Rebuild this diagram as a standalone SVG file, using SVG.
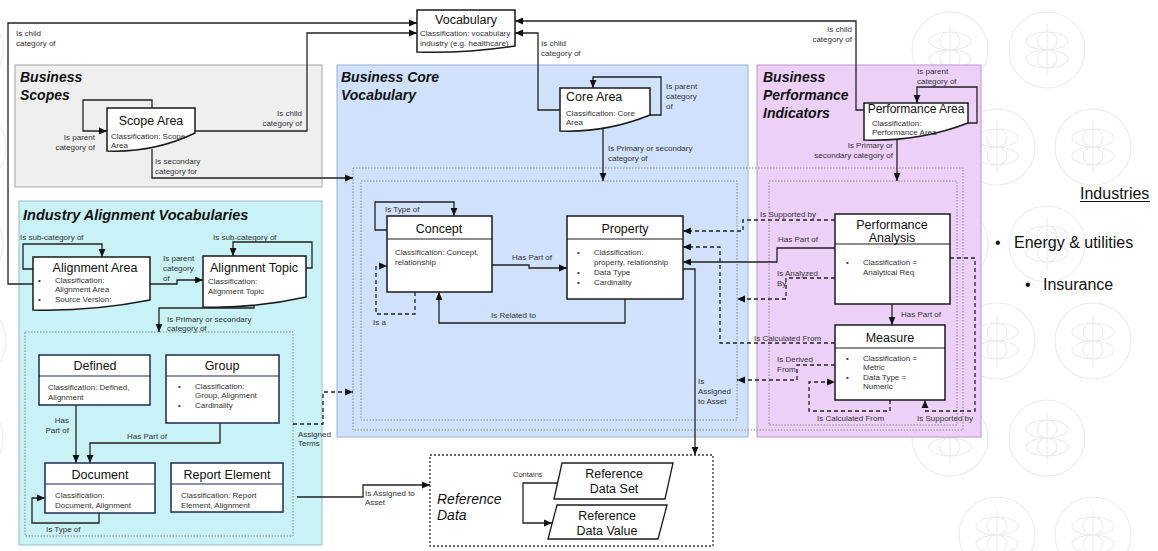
<svg xmlns="http://www.w3.org/2000/svg" width="1158" height="551" viewBox="0 0 1158 551">
  <defs>
    <style>
      text { font-family: "Liberation Sans", Arial, sans-serif; }
      .ptitle { font-size: 14px; font-weight: bold; font-style: italic; fill: #111; }
      .ttl { font-size: 12.5px; fill: #111; }
      .body { font-size: 8px; fill: #333; }
      .lbl { font-size: 8px; fill: #333; }
      .ind { font-size: 16px; fill: #111; }
      .node { fill: #fff; stroke: #1a1a1a; stroke-width: 1.5; }
      .navy { fill: #fff; stroke: #1d2b52; stroke-width: 1.5; }
      .sep { stroke: #1a1a1a; stroke-width: 1.2; }
      .sepn { stroke: #1d2b52; stroke-width: 1.2; }
      .conn { fill: none; stroke: #222; stroke-width: 1.3; marker-end: url(#arrow); }
      .dash { stroke-dasharray: 4 3; }
      .dots { fill: none; stroke: #8a8a8a; stroke-width: 1; stroke-dasharray: 1.5 1.5; }
      .wm { fill: none; stroke: #ececec; stroke-width: 1.1; }
    </style>
    <marker id="arrow" markerUnits="userSpaceOnUse" markerWidth="8" markerHeight="8" viewBox="0 0 8 8" refX="8" refY="4" orient="auto">
      <path d="M0,0.6 L8,4 L0,7.4 z" fill="#111"/>
    </marker>
    <symbol id="wmark" viewBox="-40 -40 80 80" overflow="visible">
      <circle cx="0" cy="0" r="38"/>
      <line x1="0" y1="-26" x2="0" y2="26"/>
      <ellipse cx="0" cy="-9" rx="21" ry="9"/>
      <ellipse cx="0" cy="-9" rx="10" ry="9"/>
      <ellipse cx="0" cy="9" rx="21" ry="9"/>
      <ellipse cx="0" cy="9" rx="10" ry="9"/>
    </symbol>
  </defs>

  <rect x="0" y="0" width="1158" height="551" fill="#fff"/>

  <!-- faint background emblems -->
  <g id="background" class="wm">
    <use href="#wmark" x="910" y="10" width="80" height="80"/>
    <use href="#wmark" x="1007" y="10" width="80" height="80"/>
    <use href="#wmark" x="957" y="107" width="80" height="80"/>
    <use href="#wmark" x="1053" y="107" width="80" height="80"/>
    <use href="#wmark" x="910" y="204" width="80" height="80"/>
    <use href="#wmark" x="1007" y="204" width="80" height="80"/>
    <use href="#wmark" x="957" y="301" width="80" height="80"/>
    <use href="#wmark" x="1053" y="301" width="80" height="80"/>
    <use href="#wmark" x="910" y="398" width="80" height="80"/>
    <use href="#wmark" x="1007" y="398" width="80" height="80"/>
    <use href="#wmark" x="957" y="495" width="80" height="80"/>
    <use href="#wmark" x="1053" y="495" width="80" height="80"/>
    <use href="#wmark" x="-75" y="10" width="80" height="80"/>
    <use href="#wmark" x="-72" y="107" width="80" height="80"/>
    <use href="#wmark" x="-75" y="204" width="80" height="80"/>
    <use href="#wmark" x="-72" y="301" width="80" height="80"/>
    <use href="#wmark" x="-75" y="398" width="80" height="80"/>
  </g>

  <!-- domain panels -->
  <g id="panel-business-scopes">
    <rect x="15" y="65" width="307" height="122" fill="#efefef" stroke="#b3b3b3" stroke-width="1.2"/>
    <text class="ptitle" x="20" y="82">Business</text>
    <text class="ptitle" x="20" y="100">Scopes</text>
  </g>
  <g id="panel-business-core">
    <rect x="337" y="65" width="411" height="372" fill="#cfe1fb" stroke="#a7bbdc" stroke-width="1.2"/>
    <text class="ptitle" x="341" y="82">Business Core</text>
    <text class="ptitle" x="341" y="100">Vocabulary</text>
  </g>
  <g id="panel-performance">
    <rect x="757" y="65" width="224" height="372" fill="#edd0f8" stroke="#c6a3d4" stroke-width="1.2"/>
    <text class="ptitle" x="763" y="82">Business</text>
    <text class="ptitle" x="763" y="100">Performance</text>
    <text class="ptitle" x="763" y="118">Indicators</text>
  </g>
  <g id="panel-industry-alignment">
    <rect x="19" y="201" width="303" height="344" fill="#c8f2f5" stroke="#a6c6ca" stroke-width="1.2"/>
    <text class="ptitle" x="23" y="220" style="font-size:14.5px">Industry Alignment Vocabularies</text>
  </g>

  <!-- dotted groupings -->
  <g id="groupings">
    <rect class="dots" x="353" y="168" width="610" height="262"/>
    <rect class="dots" x="361" y="181" width="376" height="239"/>
    <rect class="dots" x="769" y="181" width="188" height="244"/>
    <rect class="dots" x="25" y="332" width="268" height="204"/>
  </g>

  <!-- reference data area frame -->
  <g id="reference-data">
    <rect x="430" y="455" width="283" height="91" fill="none" stroke="#333" stroke-width="1.3" stroke-dasharray="2 2"/>
    <text x="437" y="504" style="font-size:14px;font-style:italic;fill:#111">Reference</text>
    <text x="437" y="520" style="font-size:14px;font-style:italic;fill:#111">Data</text>
  </g>

  <!-- connectors -->
  <g id="connectors">
    <path class="conn" d="M33 284 H8 V23 H417"/>
    <path class="conn" d="M195 131 H307 V33 H417"/>
    <path class="conn" d="M560 110 H538 V33 H515"/>
    <path class="conn" d="M864 110 H856 V21 H515"/>
    <path class="conn" d="M152 108 V100 H83 V131 H107"/>
    <path class="conn" d="M152 149 V178 H353"/>
    <path class="conn" d="M650 115 H661 V77 H593 V88"/>
    <path class="conn" d="M603 129 V181"/>
    <path class="conn" d="M968 123 H977 V87 H917 V103"/>
    <path class="conn" d="M897 139 V181"/>
    <path class="conn" d="M33 269 H23 V244 H102 V257"/>
    <path class="conn" d="M306 268 H312 V242 H233 V256"/>
    <path class="conn" d="M150 284 H177 V280 H203"/>
    <path class="conn" d="M254 298 V308 H159 V332"/>
    <path class="conn" d="M76 405 V463"/>
    <path class="conn" d="M220 423 V443 H90 V463"/>
    <path class="conn" d="M99 513 V523 H32 V498 H45"/>
    <path class="conn dash" d="M293 424 H323 V392 H353"/>
    <path class="conn" d="M297 497 H363 V485 H430"/>
    <path class="conn" d="M387 230 H375 V202 H454 V216"/>
    <path class="conn dash" d="M415 292 V314 H376 V266 H387"/>
    <path class="conn" d="M492 265 H529 V268 H567"/>
    <path class="conn" d="M625 299 V323 H439 V292"/>
    <path class="conn" d="M683 269 H695 V455"/>
    <path class="conn dash" d="M835 220 H743 V231 H683"/>
    <path class="conn" d="M835 248 H777 V262 H683"/>
    <path class="conn dash" d="M835 343 H720 V247 H683"/>
    <path class="conn dash" d="M835 278 H786 V299 H737"/>
    <path class="conn dash" d="M835 365 H797 V380 H737"/>
    <path class="conn" d="M892 304 V325"/>
    <path class="conn dash" d="M890 400 V411 H809 V382 H835"/>
    <path class="conn dash" d="M950 258 H975 V411 H925 V400"/>
    <path class="conn" d="M558 483 H523 V523 H552"/>

    <!-- connector labels -->
    <text class="lbl" x="16" y="36">Is child</text>
    <text class="lbl" x="16" y="46">category of</text>
    <text class="lbl" x="302" y="116" text-anchor="end">Is child</text>
    <text class="lbl" x="302" y="126" text-anchor="end">category of</text>
    <text class="lbl" x="95" y="140" text-anchor="end">Is parent</text>
    <text class="lbl" x="95" y="150" text-anchor="end">category of</text>
    <text class="lbl" x="155" y="164">Is secondary</text>
    <text class="lbl" x="155" y="174">category for</text>
    <text class="lbl" x="541" y="46">Is child</text>
    <text class="lbl" x="541" y="56">category of</text>
    <text class="lbl" x="666" y="89">Is parent</text>
    <text class="lbl" x="666" y="99">category</text>
    <text class="lbl" x="666" y="109">of</text>
    <text class="lbl" x="608" y="151">Is Primary or secondary</text>
    <text class="lbl" x="608" y="161">category of</text>
    <text class="lbl" x="852" y="32" text-anchor="end">Is child</text>
    <text class="lbl" x="852" y="42" text-anchor="end">category of</text>
    <text class="lbl" x="917" y="74">Is parent</text>
    <text class="lbl" x="917" y="84">category of</text>
    <text class="lbl" x="893" y="148" text-anchor="end">Is Primary or</text>
    <text class="lbl" x="893" y="158" text-anchor="end">secondary category of</text>
    <text class="lbl" x="20" y="240">Is sub-category of</text>
    <text class="lbl" x="213" y="240">Is sub-category of</text>
    <text class="lbl" x="163" y="261">Is parent</text>
    <text class="lbl" x="163" y="271">category</text>
    <text class="lbl" x="163" y="281">of</text>
    <text class="lbl" x="167" y="322">Is Primary or secondary</text>
    <text class="lbl" x="167" y="331">category of</text>
    <text class="lbl" x="69" y="423" text-anchor="end">Has</text>
    <text class="lbl" x="69" y="433" text-anchor="end">Part of</text>
    <text class="lbl" x="127" y="439">Has Part of</text>
    <text class="lbl" x="46" y="532">Is Type of</text>
    <text class="lbl" x="298" y="437">Assigned</text>
    <text class="lbl" x="298" y="446">Terms</text>
    <text class="lbl" x="365" y="496">Is Assigned to</text>
    <text class="lbl" x="365" y="505">Asset</text>
    <text class="lbl" x="385" y="212">Is Type of</text>
    <text class="lbl" x="373" y="325">Is a</text>
    <text class="lbl" x="512" y="260">Has Part of</text>
    <text class="lbl" x="491" y="318">Is Related to</text>
    <text class="lbl" x="698" y="384">Is</text>
    <text class="lbl" x="698" y="394">Assigned</text>
    <text class="lbl" x="698" y="404">to Asset</text>
    <text class="lbl" x="760" y="217">Is Supported by</text>
    <text class="lbl" x="778" y="242">Has Part of</text>
    <text class="lbl" x="777" y="276">Is Analyzed</text>
    <text class="lbl" x="777" y="286">By</text>
    <text class="lbl" x="754" y="341">Is Calculated From</text>
    <text class="lbl" x="777" y="362">Is Derived</text>
    <text class="lbl" x="777" y="372">From</text>
    <text class="lbl" x="901" y="317">Has Part of</text>
    <text class="lbl" x="817" y="421">Is Calculated From</text>
    <text class="lbl" x="917" y="421">Is Supported by</text>
    <text class="lbl" x="513" y="477" style="font-size:7.5px">Contains</text>
  </g>

  <!-- category nodes (document shapes) -->
  <g id="vocabulary">
    <path class="node" d="M417 10 H515 V46 C481 51 446 53 417 52 Z"/>
    <text class="ttl" x="466" y="24" text-anchor="middle">Vocabulary</text>
    <text class="body" x="420" y="36">Classification: vocabulary</text>
    <text class="body" x="420" y="46">industry (e.g. healthcare)</text>
  </g>
  <g id="scope-area">
    <path class="node" d="M107 108 H195 V133 C164 148 133 152 107 151 Z"/>
    <text class="ttl" x="151" y="125" text-anchor="middle">Scope Area</text>
    <text class="body" x="111" y="139">Classification:  Scope</text>
    <text class="body" x="111" y="148">Area</text>
  </g>
  <g id="core-area">
    <path class="node" d="M560 88 H650 V115 C618 128 587 132 560 131 Z"/>
    <text class="ttl" x="566" y="101">Core Area</text>
    <text class="body" x="566" y="116">Classification: Core</text>
    <text class="body" x="566" y="125">Area</text>
  </g>
  <g id="performance-area">
    <path class="node" d="M864 103 H968 V123 C932 137 895 141 864 140 Z"/>
    <text class="ttl" x="916" y="113" text-anchor="middle" style="font-size:12px">Performance Area</text>
    <text class="body" x="872" y="126">Classification:</text>
    <text class="body" x="872" y="135">Performance Area</text>
  </g>
  <g id="alignment-area">
    <path class="node" d="M33 257 H150 V300 C109 308 68 311 33 310 Z"/>
    <text class="ttl" x="95" y="272" text-anchor="middle">Alignment Area</text>
    <text class="body" x="38" y="283">•</text>
    <text class="body" x="55" y="283">Classification:</text>
    <text class="body" x="55" y="292">Alignment Area</text>
    <text class="body" x="38" y="302">•</text>
    <text class="body" x="55" y="302">Source Version:</text>
  </g>
  <g id="alignment-topic">
    <path class="node" d="M203 256 H306 V297 C270 305 234 308 203 307 Z"/>
    <text class="ttl" x="254" y="272" text-anchor="middle">Alignment Topic</text>
    <text class="body" x="208" y="284">Classification:</text>
    <text class="body" x="208" y="294">Alignment Topic</text>
  </g>

  <!-- industry alignment entities -->
  <g id="defined">
    <rect class="navy" x="39" y="355" width="111" height="50"/>
    <line class="sepn" x1="39" y1="376" x2="150" y2="376"/>
    <text class="ttl" x="95" y="370" text-anchor="middle">Defined</text>
    <text class="body" x="48" y="390">Classification: Defined,</text>
    <text class="body" x="48" y="400">Alignment</text>
  </g>
  <g id="group">
    <rect class="navy" x="166" y="355" width="113" height="68"/>
    <line class="sepn" x1="166" y1="376" x2="279" y2="376"/>
    <text class="ttl" x="222" y="370" text-anchor="middle">Group</text>
    <text class="body" x="178" y="389">•</text>
    <text class="body" x="195" y="389">Classification:</text>
    <text class="body" x="195" y="398">Group, Alignment</text>
    <text class="body" x="178" y="408">•</text>
    <text class="body" x="195" y="408">Cardinality</text>
  </g>
  <g id="document">
    <rect class="navy" x="45" y="463" width="110" height="50"/>
    <line class="sepn" x1="45" y1="484" x2="155" y2="484"/>
    <text class="ttl" x="100" y="479" text-anchor="middle">Document</text>
    <text class="body" x="55" y="498">Classification:</text>
    <text class="body" x="55" y="508">Document, Alignment</text>
  </g>
  <g id="report-element">
    <rect class="navy" x="171" y="463" width="112" height="49"/>
    <line class="sepn" x1="171" y1="484" x2="283" y2="484"/>
    <text class="ttl" x="227" y="479" text-anchor="middle">Report Element</text>
    <text class="body" x="181" y="498">Classification: Report</text>
    <text class="body" x="181" y="508">Element, Alignment</text>
  </g>

  <!-- core vocabulary entities -->
  <g id="concept">
    <rect class="node" x="387" y="216" width="105" height="76"/>
    <line class="sep" x1="387" y1="239" x2="492" y2="239"/>
    <text class="ttl" x="439" y="233" text-anchor="middle">Concept</text>
    <text class="body" x="395" y="255">Classification: Concept,</text>
    <text class="body" x="395" y="265">relationship</text>
  </g>
  <g id="property">
    <rect class="node" x="567" y="216" width="116" height="83"/>
    <line class="sep" x1="567" y1="239" x2="683" y2="239"/>
    <text class="ttl" x="625" y="233" text-anchor="middle">Property</text>
    <text class="body" x="577" y="255">•</text>
    <text class="body" x="594" y="255">Classification:</text>
    <text class="body" x="594" y="265">property, relationship</text>
    <text class="body" x="577" y="275">•</text>
    <text class="body" x="594" y="275">Data Type</text>
    <text class="body" x="577" y="285">•</text>
    <text class="body" x="594" y="285">Cardinality</text>
  </g>

  <!-- performance entities -->
  <g id="performance-analysis">
    <rect class="node" x="835" y="214" width="115" height="90"/>
    <line class="sep" x1="835" y1="244" x2="950" y2="244"/>
    <text class="ttl" x="892" y="229" text-anchor="middle">Performance</text>
    <text class="ttl" x="892" y="242" text-anchor="middle">Analysis</text>
    <text class="body" x="846" y="265">•</text>
    <text class="body" x="863" y="265">Classification =</text>
    <text class="body" x="863" y="275">Analytical Req</text>
  </g>
  <g id="measure">
    <rect class="node" x="835" y="325" width="110" height="75"/>
    <line class="sep" x1="835" y1="348" x2="945" y2="348"/>
    <text class="ttl" x="890" y="342" text-anchor="middle">Measure</text>
    <text class="body" x="846" y="361">•</text>
    <text class="body" x="863" y="361">Classification  =</text>
    <text class="body" x="863" y="370">Metric</text>
    <text class="body" x="846" y="380">•</text>
    <text class="body" x="863" y="380">Data Type =</text>
    <text class="body" x="863" y="389">Numeric</text>
  </g>

  <!-- reference data entries -->
  <g id="reference-data-set">
    <path class="node" d="M562 463 H673 L665 499 H554 Z" style="stroke-width:1.3"/>
    <text class="ttl" x="614" y="478" text-anchor="middle">Reference</text>
    <text class="ttl" x="614" y="493" text-anchor="middle">Data Set</text>
  </g>
  <g id="reference-data-value">
    <path class="node" d="M557 505 H667 L658 539 H548 Z" style="stroke-width:1.3"/>
    <text class="ttl" x="607" y="520" text-anchor="middle">Reference</text>
    <text class="ttl" x="607" y="535" text-anchor="middle">Data Value</text>
  </g>

  <!-- industries list -->
  <g id="industries">
    <text class="ind" x="1080" y="199">Industries</text>
    <line x1="1080" y1="201.5" x2="1150" y2="201.5" stroke="#111" stroke-width="1"/>
    <text class="ind" x="995" y="248">•</text>
    <text class="ind" x="1014" y="248">Energy &amp; utilities</text>
    <text class="ind" x="1025" y="290">•</text>
    <text class="ind" x="1043" y="290">Insurance</text>
  </g>
</svg>
